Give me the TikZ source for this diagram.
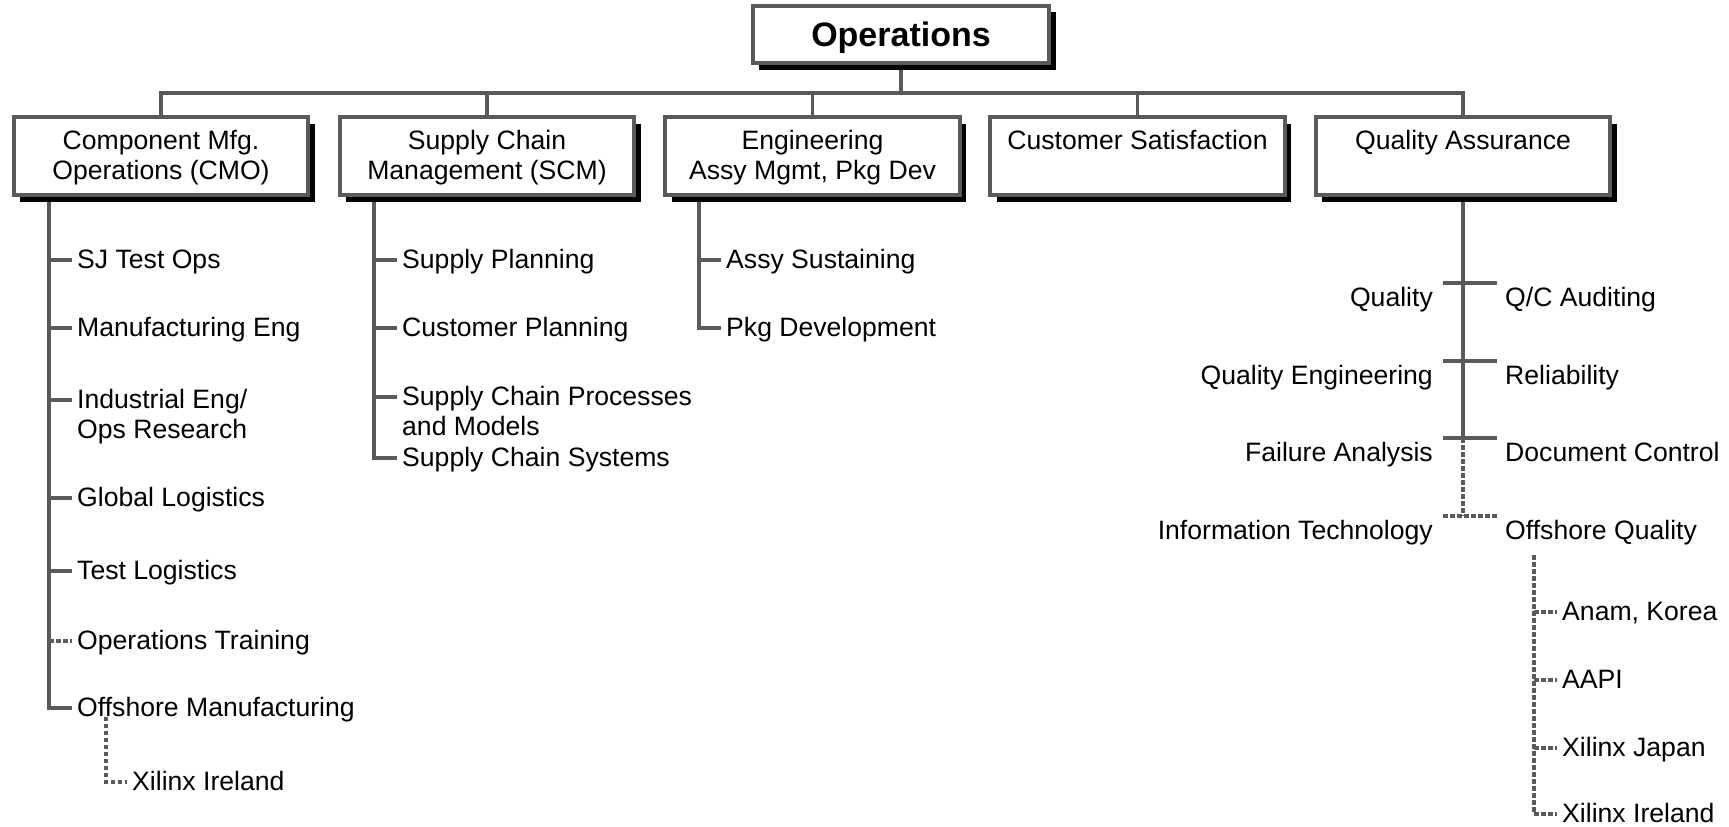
\documentclass[tikz,border=0pt]{standalone}
\usepackage{fontspec}
\setmainfont{Liberation Sans}
\usetikzlibrary{shadows}
\definecolor{linegray}{HTML}{5A5A5A}
\newcommand\chartfont{\fontsize{26.6pt}{30pt}\selectfont}
\newcommand\headfont{\fontsize{34pt}{40pt}\selectfont\bfseries}
\pgfdeclarelayer{wires}
\pgfsetlayers{wires,main}
\begin{document}
\begin{tikzpicture}[x=1pt,y=-1pt,
  conn/.style={draw=linegray,line width=3.8pt},
  dotconn/.style={conn,dash pattern=on 4.5pt off 2.5pt},
  boxshadow/.style={drop shadow={shadow xshift=6.5pt,shadow yshift=-6.5pt,opacity=1,fill=black}},
  headbox/.style={draw=linegray,line width=3.6pt,fill=white,boxshadow,
    minimum width=296.5pt,minimum height=57.5pt,inner sep=0pt,
    font=\headfont,text height=24.3pt,text depth=0pt},
  unitbox/.style={draw=linegray,line width=3.6pt,fill=white,boxshadow,
    minimum width=294.5pt,minimum height=78pt,inner sep=0pt},
  boxtext/.style={anchor=base,inner sep=0pt,font=\chartfont},
  item/.style={anchor=west,inner xsep=5pt,inner ysep=0pt,
    text height=17.4pt,text depth=0pt,font=\chartfont},
  itemleft/.style={item,anchor=east},
]
\useasboundingbox (0,0) rectangle (1729,827);

% ---- top level and the five departments
\node[headbox] (ops) at (901,34.5) {Operations};
\node[unitbox] (cmo) at (161,156.25) {};
\node[unitbox] (scm) at (487,156.25) {};
\node[unitbox] (eng) at (812.5,156.25) {};
\node[unitbox] (cs)  at (1137.5,156.25) {};
\node[unitbox] (qa)  at (1463,156.25) {};

\node[boxtext] (cmoA) at (161,149)   {Component Mfg.};
\node[boxtext] (cmoB) at (161,179.5) {Operations (CMO)};
\node[boxtext] (scmA) at (487,149)   {Supply Chain};
\node[boxtext] (scmB) at (487,179.5) {Management (SCM)};
\node[boxtext] (engA) at (812.5,149)   {Engineering};
\node[boxtext] (engB) at (812.5,179.5) {Assy Mgmt, Pkg Dev};
\node[boxtext] (csA)  at (1137.5,149) {Customer Satisfaction};
\node[boxtext] (qaA)  at (1463,149)   {Quality Assurance};

% ---- CMO groups
\coordinate (cmoSpine) at (49,0);
\node[item] (sj)  at (72,260) {SJ Test Ops};
\node[item] (me)  at (72,328) {Manufacturing Eng};
\node[item] (ie)  at (72,400) {Industrial Eng/};
\node[item] (ie2) at (72,430) {Ops Research};
\node[item] (gl)  at (72,498) {Global Logistics};
\node[item] (tl)  at (72,571) {Test Logistics};
\node[item] (ot)  at (72,641) {Operations Training};
\node[item] (om)  at (72,708) {Offshore Manufacturing};
\coordinate (omDrop) at (106,0);
\node[item] (xi1) at (127,782) {Xilinx Ireland};

% ---- SCM groups
\coordinate (scmSpine) at (374,0);
\node[item] (sp)   at (397,260) {Supply Planning};
\node[item] (cp)   at (397,328) {Customer Planning};
\node[item] (scp)  at (397,397) {Supply Chain Processes};
\node[item] (scp2) at (397,427) {and Models};
\node[item] (scs)  at (397,458) {Supply Chain Systems};

% ---- Engineering groups
\coordinate (engSpine) at (699,0);
\node[item] (as) at (721,260) {Assy Sustaining};
\node[item] (pd) at (721,328) {Pkg Development};

% ---- Quality Assurance groups
\coordinate (qaT1L) at (1443,283);   \coordinate (qaT1R) at (1497,283);
\coordinate (qaT2L) at (1443,360.7); \coordinate (qaT2R) at (1497,360.7);
\coordinate (qaT3L) at (1443,438);   \coordinate (qaT3R) at (1497,438);
\coordinate (qaT4L) at (1443,516);   \coordinate (qaT4R) at (1497,516);
\node[itemleft] (qual) at (1438,298) {Quality};
\node[itemleft] (qe)   at (1438,376) {Quality Engineering};
\node[itemleft] (fa)   at (1438,453) {Failure Analysis};
\node[itemleft] (it)   at (1438,531) {Information Technology};
\node[item] (qca) at (1500,298) {Q/C Auditing};
\node[item] (rel) at (1500,376) {Reliability};
\node[item] (dc)  at (1500,453) {Document Control};
\node[item] (oq)  at (1500,531) {Offshore Quality};
\coordinate (oqSpine) at (1534,555);
\node[item] (anam) at (1557,612) {Anam, Korea};
\node[item] (aapi) at (1557,680) {AAPI};
\node[item] (xj)   at (1557,748) {Xilinx Japan};
\node[item] (xi2)  at (1557,814) {Xilinx Ireland};

\begin{pgfonlayer}{wires}
  % reporting bus under the top box
  \coordinate (bus) at (0,93);
  \draw[conn] (ops.south) -- (ops.south |- bus);
  \draw[conn] (cmo.north) -- (cmo.north |- bus) -- (qa.north |- bus) -- (qa.north);
  \foreach \b in {scm,eng,cs} \draw[conn] (\b.north) -- (\b.north |- bus);

  % CMO
  \draw[conn] (cmo.south -| cmoSpine) |- (om.west);
  \foreach \c in {sj,me,ie,gl,tl} \draw[conn] (\c.west -| cmoSpine) -- (\c.west);
  \draw[dotconn] (ot.west -| cmoSpine) -- (ot.west);
  \draw[dotconn] (om.south -| omDrop) |- (xi1.west);

  % SCM
  \draw[conn] (scm.south -| scmSpine) |- (scs.west);
  \foreach \c in {sp,cp,scp} \draw[conn] (\c.west -| scmSpine) -- (\c.west);

  % Engineering
  \draw[conn] (eng.south -| engSpine) |- (pd.west);
  \draw[conn] (as.west -| engSpine) -- (as.west);

  % Quality Assurance
  \draw[conn] (qa.south) -- (qa.south |- qaT3L);
  \draw[dotconn] (qa.south |- qaT3L) -- (qa.south |- qaT4L);
  \draw[conn] (qaT1L) -- (qaT1R);
  \draw[conn] (qaT2L) -- (qaT2R);
  \draw[conn] (qaT3L) -- (qaT3R);
  \draw[dotconn] (qaT4L) -- (qaT4R);
  \draw[dotconn] (oqSpine) |- (xi2.west);
  \foreach \c in {anam,aapi,xj} \draw[dotconn] (\c.west -| oqSpine) -- (\c.west);
\end{pgfonlayer}
\end{tikzpicture}
\end{document}
